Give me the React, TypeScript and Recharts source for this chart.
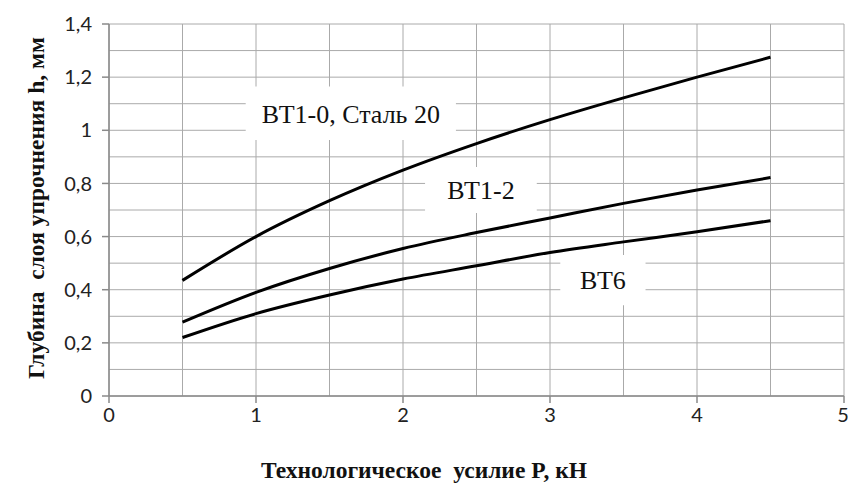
import React from "react";
import {
  LineChart,
  Line,
  XAxis,
  YAxis,
  CartesianGrid,
  ReferenceArea,
} from "recharts";

// ---- data ----
const forceKN = [0.5, 1, 1.5, 2, 2.5, 3, 3.5, 4, 4.5];
const depthVT10 = [0.435, 0.6, 0.735, 0.85, 0.95, 1.04, 1.122, 1.2, 1.275];
const depthVT12 = [0.278, 0.39, 0.48, 0.555, 0.615, 0.67, 0.725, 0.775, 0.822];
const depthVT6 = [0.22, 0.31, 0.38, 0.44, 0.49, 0.54, 0.58, 0.618, 0.66];

const xTicks = [0, 1, 2, 3, 4, 5];
const xGridValues = [0, 0.5, 1, 1.5, 2, 2.5, 3, 3.5, 4, 4.5, 5];
const yTicks = [0, 0.2, 0.4, 0.6, 0.8, 1, 1.2, 1.4];
const yGridValues = [0, 0.1, 0.2, 0.3, 0.4, 0.5, 0.6, 0.7, 0.8, 0.9, 1, 1.1, 1.2, 1.3, 1.4];

const xTitle = "Технологическое  усилие P, кН";
const yTitle = "Глубина  слоя упрочнения h, мм";

// curve annotations (white boxes in data coordinates)
const annotations = [
  { text: "ВТ1-0, Сталь 20", x1: 0.93, x2: 2.36, y1: 0.963, y2: 1.165 },
  { text: "ВТ1-2", x1: 2.15, x2: 2.91, y1: 0.689, y2: 0.862 },
  { text: "ВТ6", x1: 3.07, x2: 3.65, y1: 0.342, y2: 0.531 },
];

const data = forceKN.map((p, i) => ({
  p,
  vt10: depthVT10[i],
  vt12: depthVT12[i],
  vt6: depthVT6[i],
}));

const serif = "'Liberation Serif', 'Times New Roman', serif";
const sans = "Lato, 'Open Sans', sans-serif";

const fmt = (v: number) => String(v).replace(".", ",");

const titleStyle = {
  whiteSpace: "pre" as const,
  fontFamily: serif,
  fontWeight: "bold" as const,
  fontSize: 23.5,
  fill: "#111",
};

const YTitle = (props: any) => {
  const vb = props.viewBox || {};
  const cy = vb.height ? vb.y + vb.height / 2 - 2 : 208;
  const cx = 36;
  return (
    <text
      x={cx}
      y={cy}
      transform={`rotate(-90, ${cx}, ${cy})`}
      textAnchor="middle"
      dominantBaseline="central"
      style={titleStyle}
    >
      {yTitle}
    </text>
  );
};

const XTitle = () => (
  <text x={424} y={470} textAnchor="middle" dominantBaseline="central" style={titleStyle}>
    {xTitle}
  </text>
);

export default function App() {
  return (
    <div style={{ position: "absolute", left: 0, top: 0, width: 848, height: 498, background: "#fff" }}>
      <LineChart width={848} height={498} data={data} margin={{ top: 24, right: 4, left: 0, bottom: 0 }}>
        <CartesianGrid
          stroke="#aaaaaa"
          strokeWidth={1}
          horizontalValues={yGridValues}
          verticalValues={xGridValues}
        />
        <XAxis
          dataKey="p"
          type="number"
          domain={[0, 5]}
          ticks={xTicks}
          tickFormatter={fmt}
          stroke="#8a8a8a"
          strokeWidth={1.5}
          tickSize={7}
          tickMargin={5}
          height={102}
          tick={{ fontSize: 20, fontFamily: sans, fill: "#222" }}
          label={<XTitle />}
        />
        <YAxis
          type="number"
          domain={[0, 1.4]}
          ticks={yTicks}
          tickFormatter={fmt}
          stroke="#8a8a8a"
          strokeWidth={1.5}
          tickSize={7}
          tickMargin={10}
          width={109}
          tick={{ fontSize: 20, fontFamily: sans, fill: "#222" }}
          label={<YTitle />}
        />
        {annotations.map((a) => (
          <ReferenceArea
            key={a.text}
            x1={a.x1}
            x2={a.x2}
            y1={a.y1}
            y2={a.y2}
            fill="#ffffff"
            fillOpacity={1}
            stroke="none"
            label={{ value: a.text, position: "center", fontSize: 26, fontFamily: serif, fill: "#111" }}
          />
        ))}
        <Line dataKey="vt10" type="monotone" stroke="#000" strokeWidth={3} dot={false} isAnimationActive={false} />
        <Line dataKey="vt12" type="monotone" stroke="#000" strokeWidth={3} dot={false} isAnimationActive={false} />
        <Line dataKey="vt6" type="monotone" stroke="#000" strokeWidth={3} dot={false} isAnimationActive={false} />
      </LineChart>
    </div>
  );
}
